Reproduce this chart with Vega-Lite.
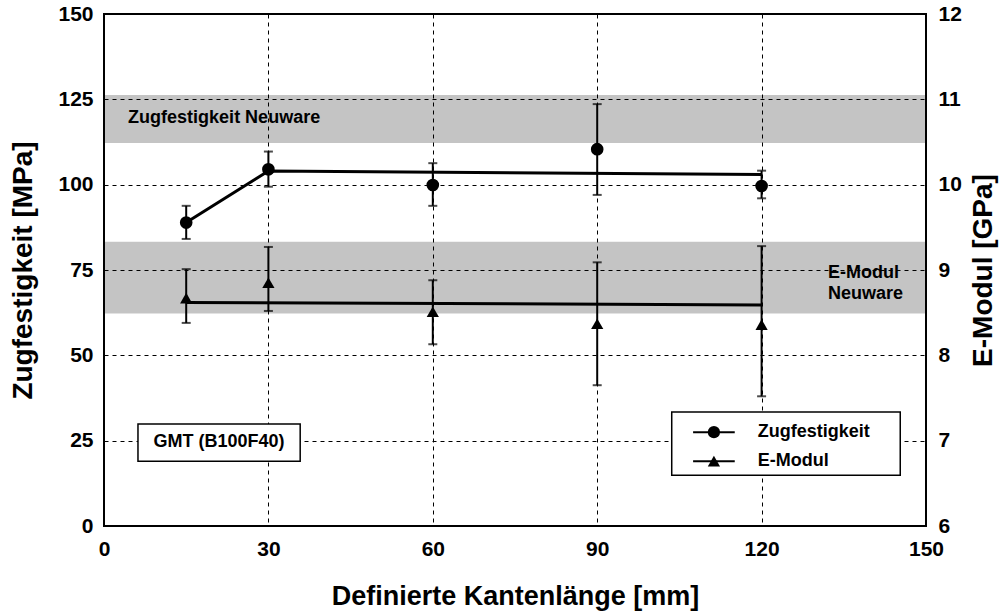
{
  "$schema": "https://vega.github.io/schema/vega-lite/v6.json",
  "width": 822,
  "height": 512,
  "autosize": {"type": "none"},
  "padding": {"left": 104, "top": 14, "right": 79, "bottom": 86},
  "background": "white",
  "config": {
    "view": {"stroke": "black", "strokeWidth": 2},
    "font": "Liberation Sans",
    "axis": {
      "labelFont": "Liberation Sans", "labelFontSize": 21, "labelFontWeight": "bold", "labelColor": "black",
      "titleFont": "Liberation Sans", "titleFontSize": 28, "titleFontWeight": "bold", "titleColor": "black",
      "domain": false, "ticks": false, "labelFlush": false, "labelOverlap": false,
      "gridColor": "black", "gridDash": [4, 4], "gridWidth": 1, "gridOpacity": 1
    },
    "text": {"font": "Liberation Sans", "fontWeight": "bold", "fontSize": 18, "color": "black"}
  },
  "datasets": {
    "zug": [
      {"kante": 15, "zugfestigkeit": 88.9, "min": 84.1, "max": 93.8},
      {"kante": 30, "zugfestigkeit": 104.5, "min": 99.4, "max": 109.7},
      {"kante": 60, "zugfestigkeit": 99.9, "min": 93.8, "max": 106.3},
      {"kante": 90, "zugfestigkeit": 110.4, "min": 97.0, "max": 123.6},
      {"kante": 120, "zugfestigkeit": 99.6, "min": 96.0, "max": 104.1}
    ],
    "zugTrend": [
      {"kante": 15, "zugfestigkeit": 88.9},
      {"kante": 30, "zugfestigkeit": 104.0},
      {"kante": 120, "zugfestigkeit": 103.0}
    ],
    "emod": [
      {"kante": 15, "emodul": 8.67, "min": 8.38, "max": 9.01},
      {"kante": 30, "emodul": 8.85, "min": 8.52, "max": 9.27},
      {"kante": 60, "emodul": 8.51, "min": 8.13, "max": 8.88},
      {"kante": 90, "emodul": 8.37, "min": 7.65, "max": 9.09},
      {"kante": 120, "emodul": 8.36, "min": 7.52, "max": 9.28}
    ],
    "emodTrend": [
      {"kante": 15, "emodul": 8.62},
      {"kante": 120, "emodul": 8.59}
    ],
    "zugBand": [{"name": "Zugfestigkeit Neuware", "lo": 112.2, "hi": 126.3}],
    "emodBand": [{"name": "E-Modul\nNeuware", "lo": 8.49, "hi": 9.33}],
    "material": [{"label": "GMT (B100F40)"}],
    "legend": [
      {"series": "Zugfestigkeit", "shape": "circle"},
      {"series": "E-Modul", "shape": "triangle-up"}
    ]
  },
  "layer": [
    {
      "layer": [
        {
          "data": {"name": "zugBand"},
          "mark": {"type": "rect", "color": "black", "opacity": 0.23},
          "encoding": {
            "x": {"datum": 0, "type": "quantitative", "title": "Definierte Kantenlänge [mm]", "scale": {"domain": [0, 150], "nice": false}},
            "x2": {"datum": 150},
            "y": {"field": "lo", "type": "quantitative", "title": "Zugfestigkeit [MPa]", "scale": {"domain": [0, 150], "nice": false}},
            "y2": {"field": "hi"}
          }
        },
        {
          "data": {"name": "zugBand"},
          "mark": {"type": "text", "align": "left", "baseline": "middle"},
          "encoding": {
            "x": {"datum": 4.4, "type": "quantitative", "title": "Definierte Kantenlänge [mm]"},
            "y": {"datum": 119.6, "type": "quantitative", "title": "Zugfestigkeit [MPa]"},
            "text": {"field": "name"}
          }
        },
        {
          "data": {"name": "material"},
          "layer": [
            {
              "mark": {"type": "rect", "fill": "white", "stroke": "black", "strokeWidth": 1.5},
              "encoding": {
                "x": {"datum": 6.2, "type": "quantitative", "title": "Definierte Kantenlänge [mm]"},
                "x2": {"datum": 35.8},
                "y": {"datum": 19.0, "type": "quantitative", "title": "Zugfestigkeit [MPa]"},
                "y2": {"datum": 29.9}
              }
            },
            {
              "mark": {"type": "text", "align": "center", "baseline": "middle"},
              "encoding": {
                "x": {"datum": 21.0, "type": "quantitative", "title": "Definierte Kantenlänge [mm]"},
                "y": {"datum": 24.5, "type": "quantitative", "title": "Zugfestigkeit [MPa]"},
                "text": {"field": "label"}
              }
            }
          ]
        },
        {
          "data": {"name": "legend"},
          "layer": [
            {
              "transform": [{"filter": "datum.series === 'Zugfestigkeit'"}],
              "mark": {"type": "rect", "fill": "white", "stroke": "black", "strokeWidth": 1.5},
              "encoding": {
                "x": {"datum": 103.6, "type": "quantitative", "title": "Definierte Kantenlänge [mm]"},
                "x2": {"datum": 145.3},
                "y": {"datum": 14.9, "type": "quantitative", "title": "Zugfestigkeit [MPa]"},
                "y2": {"datum": 33.4}
              }
            },
            {
              "transform": [{"filter": "datum.series === 'Zugfestigkeit'"}],
              "layer": [
                {
                  "mark": {"type": "rule", "color": "black", "strokeWidth": 2},
                  "encoding": {
                    "x": {"datum": 107.5, "type": "quantitative", "title": "Definierte Kantenlänge [mm]"},
                    "x2": {"datum": 115.1},
                    "y": {"datum": 27.5, "type": "quantitative", "title": "Zugfestigkeit [MPa]"}
                  }
                },
                {
                  "mark": {"type": "point", "filled": true, "shape": "circle", "size": 150, "color": "black", "opacity": 1},
                  "encoding": {
                    "x": {"datum": 111.3, "type": "quantitative", "title": "Definierte Kantenlänge [mm]"},
                    "y": {"datum": 27.5, "type": "quantitative", "title": "Zugfestigkeit [MPa]"}
                  }
                },
                {
                  "mark": {"type": "text", "align": "left", "baseline": "middle"},
                  "encoding": {
                    "x": {"datum": 119.3, "type": "quantitative", "title": "Definierte Kantenlänge [mm]"},
                    "y": {"datum": 27.5, "type": "quantitative", "title": "Zugfestigkeit [MPa]"},
                    "text": {"field": "series"}
                  }
                }
              ]
            },
            {
              "transform": [{"filter": "datum.series === 'E-Modul'"}],
              "layer": [
                {
                  "mark": {"type": "rule", "color": "black", "strokeWidth": 2},
                  "encoding": {
                    "x": {"datum": 107.5, "type": "quantitative", "title": "Definierte Kantenlänge [mm]"},
                    "x2": {"datum": 115.1},
                    "y": {"datum": 19.0, "type": "quantitative", "title": "Zugfestigkeit [MPa]"}
                  }
                },
                {
                  "mark": {"type": "point", "filled": true, "shape": "triangle-up", "size": 150, "color": "black", "opacity": 1},
                  "encoding": {
                    "x": {"datum": 111.3, "type": "quantitative", "title": "Definierte Kantenlänge [mm]"},
                    "y": {"datum": 19.0, "type": "quantitative", "title": "Zugfestigkeit [MPa]"}
                  }
                },
                {
                  "mark": {"type": "text", "align": "left", "baseline": "middle"},
                  "encoding": {
                    "x": {"datum": 119.3, "type": "quantitative", "title": "Definierte Kantenlänge [mm]"},
                    "y": {"datum": 19.0, "type": "quantitative", "title": "Zugfestigkeit [MPa]"},
                    "text": {"field": "series"}
                  }
                }
              ]
            }
          ]
        },
        {
          "data": {"name": "zugTrend"},
          "mark": {"type": "line", "color": "black", "strokeWidth": 3},
          "encoding": {
            "x": {"field": "kante", "type": "quantitative", "title": "Definierte Kantenlänge [mm]"},
            "y": {"field": "zugfestigkeit", "type": "quantitative", "title": "Zugfestigkeit [MPa]"}
          }
        },
        {
          "data": {"name": "zug"},
          "mark": {"type": "errorbar", "color": "black", "ticks": {"size": 9, "thickness": 2, "color": "black"}, "rule": {"strokeWidth": 2, "color": "black"}},
          "encoding": {
            "x": {"field": "kante", "type": "quantitative", "title": "Definierte Kantenlänge [mm]"},
            "y": {"field": "min", "type": "quantitative", "title": "Zugfestigkeit [MPa]"},
            "y2": {"field": "max"}
          }
        },
        {
          "data": {"name": "zug"},
          "mark": {"type": "point", "filled": true, "shape": "circle", "size": 160, "color": "black", "opacity": 1},
          "encoding": {
            "x": {
              "field": "kante", "type": "quantitative", "title": "Definierte Kantenlänge [mm]",
              "scale": {"domain": [0, 150], "nice": false},
              "axis": {"values": [0, 30, 60, 90, 120, 150], "grid": true, "title": "Definierte Kantenlänge [mm]", "titleFontSize": 27, "labelPadding": 12, "titlePadding": 24}
            },
            "y": {
              "field": "zugfestigkeit", "type": "quantitative", "title": "Zugfestigkeit [MPa]",
              "scale": {"domain": [0, 150], "nice": false},
              "axis": {"orient": "left", "values": [0, 25, 50, 75, 100, 125, 150], "grid": true, "title": "Zugfestigkeit [MPa]", "labelPadding": 11, "titlePadding": 20}
            }
          }
        }
      ]
    },
    {
      "layer": [
        {
          "data": {"name": "emodBand"},
          "mark": {"type": "rect", "color": "black", "opacity": 0.23},
          "encoding": {
            "x": {"datum": 0, "type": "quantitative", "title": "Definierte Kantenlänge [mm]"},
            "x2": {"datum": 150},
            "y": {"field": "lo", "type": "quantitative", "title": "E-Modul [GPa]", "scale": {"domain": [6, 12], "nice": false}},
            "y2": {"field": "hi"}
          }
        },
        {
          "data": {"name": "emodBand"},
          "mark": {"type": "text", "align": "left", "baseline": "middle", "lineBreak": "\n", "lineHeight": 21},
          "encoding": {
            "x": {"datum": 132.1, "type": "quantitative", "title": "Definierte Kantenlänge [mm]"},
            "y": {"datum": 8.97, "type": "quantitative", "title": "E-Modul [GPa]"},
            "text": {"field": "name"}
          }
        },
        {
          "data": {"name": "emodTrend"},
          "mark": {"type": "line", "color": "black", "strokeWidth": 3},
          "encoding": {
            "x": {"field": "kante", "type": "quantitative", "title": "Definierte Kantenlänge [mm]"},
            "y": {"field": "emodul", "type": "quantitative", "title": "E-Modul [GPa]"}
          }
        },
        {
          "data": {"name": "emod"},
          "mark": {"type": "errorbar", "color": "black", "ticks": {"size": 9, "thickness": 2, "color": "black"}, "rule": {"strokeWidth": 2, "color": "black"}},
          "encoding": {
            "x": {"field": "kante", "type": "quantitative", "title": "Definierte Kantenlänge [mm]"},
            "y": {"field": "min", "type": "quantitative", "title": "E-Modul [GPa]"},
            "y2": {"field": "max"}
          }
        },
        {
          "data": {"name": "emod"},
          "mark": {"type": "point", "filled": true, "shape": "triangle-up", "size": 150, "color": "black", "opacity": 1},
          "encoding": {
            "x": {"field": "kante", "type": "quantitative", "title": "Definierte Kantenlänge [mm]"},
            "y": {
              "field": "emodul", "type": "quantitative", "title": "E-Modul [GPa]",
              "scale": {"domain": [6, 12], "nice": false},
              "axis": {"orient": "right", "values": [6, 7, 8, 9, 10, 11, 12], "format": "d", "grid": false, "title": "E-Modul [GPa]", "labelPadding": 12, "titlePadding": 8, "titleAngle": 270, "titleBaseline": "top"}
            }
          }
        }
      ]
    }
  ],
  "resolve": {"scale": {"y": "independent"}, "axis": {"y": "independent"}}
}
